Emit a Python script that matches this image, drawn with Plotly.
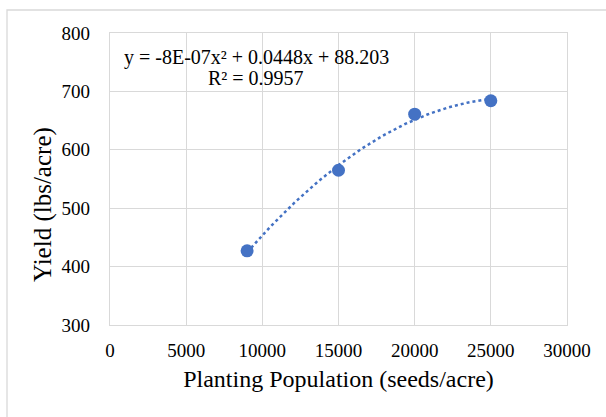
import numpy as np
import plotly.graph_objects as go

population = [9000, 15000, 20000, 25000]
yield_lbs = [427, 565, 661, 684]
x_ticks = [0, 5000, 10000, 15000, 20000, 25000, 30000]
y_ticks = [300, 400, 500, 600, 700, 800]
equation_text = "y = -8E-07x² + 0.0448x + 88.203"
r2_text = "R² = 0.9957"
x_title = "Planting Population (seeds/acre)"
y_title = "Yield (lbs/acre)"

coef = np.polyfit(population, yield_lbs, 2)
xs = np.linspace(min(population), max(population), 120)
ys = np.polyval(coef, xs)

FONT = "Liberation Serif"
BLUE = "#4472C4"
GRID = "#d9d9d9"

fig = go.Figure()
fig.add_trace(go.Scatter(x=xs, y=ys, mode="lines",
                         line=dict(color=BLUE, width=2.5, dash="dot"),
                         hoverinfo="skip", showlegend=False))
fig.add_trace(go.Scatter(x=population, y=yield_lbs, mode="markers",
                         marker=dict(color=BLUE, size=13), showlegend=False))

L, R, T, B = 110, 39, 33, 92
W, H = 606, 417
pw, ph = W - L - R, H - T - B

fig.update_layout(
    width=W, height=H,
    margin=dict(l=L, r=R, t=T, b=B),
    paper_bgcolor="white", plot_bgcolor="white",
    font=dict(family=FONT, color="black", size=19),
    xaxis=dict(range=[0, 30000], tickvals=x_ticks, ticktext=[str(v) for v in x_ticks],
               showgrid=True, gridcolor=GRID, gridwidth=1.3,
               showline=True, linecolor=GRID, linewidth=1.3, mirror=True,
               zeroline=False, ticks="outside", ticklen=8, tickcolor="rgba(0,0,0,0)",
               tickfont=dict(size=19, family=FONT),
               title=dict(text=x_title, font=dict(size=24, family=FONT), standoff=10)),
    yaxis=dict(range=[300, 800], tickvals=y_ticks,
               showgrid=True, gridcolor=GRID, gridwidth=1.3,
               showline=True, linecolor=GRID, linewidth=1.3, mirror=True,
               zeroline=False, ticks="outside", ticklen=15, tickcolor="rgba(0,0,0,0)",
               tickfont=dict(size=19, family=FONT)),
    annotations=[
        dict(text=equation_text, x=(256 - L) / pw, y=(H - B - 57) / ph, xref="paper", yref="paper",
             showarrow=False, font=dict(size=20, family=FONT), xanchor="center", yanchor="middle"),
        dict(text=r2_text, x=(256 - L) / pw, y=(H - B - 78) / ph, xref="paper", yref="paper",
             showarrow=False, font=dict(size=20, family=FONT), xanchor="center", yanchor="middle"),
        dict(text=y_title, textangle=-90, x=(43 - L) / pw, y=(H - B - 205) / ph,
             xref="paper", yref="paper", showarrow=False,
             font=dict(size=25, family=FONT), xanchor="center", yanchor="middle"),
    ],
    shapes=[dict(type="rect", xref="paper", yref="paper",
                 x0=(7 - L) / pw, x1=(W + 20 - L) / pw,
                 y0=(H - B - (H + 20)) / ph, y1=(H - B - 10) / ph,
                 line=dict(color=GRID, width=1.3), fillcolor="rgba(0,0,0,0)", layer="below")],
)

fig.write_html("out.html")
